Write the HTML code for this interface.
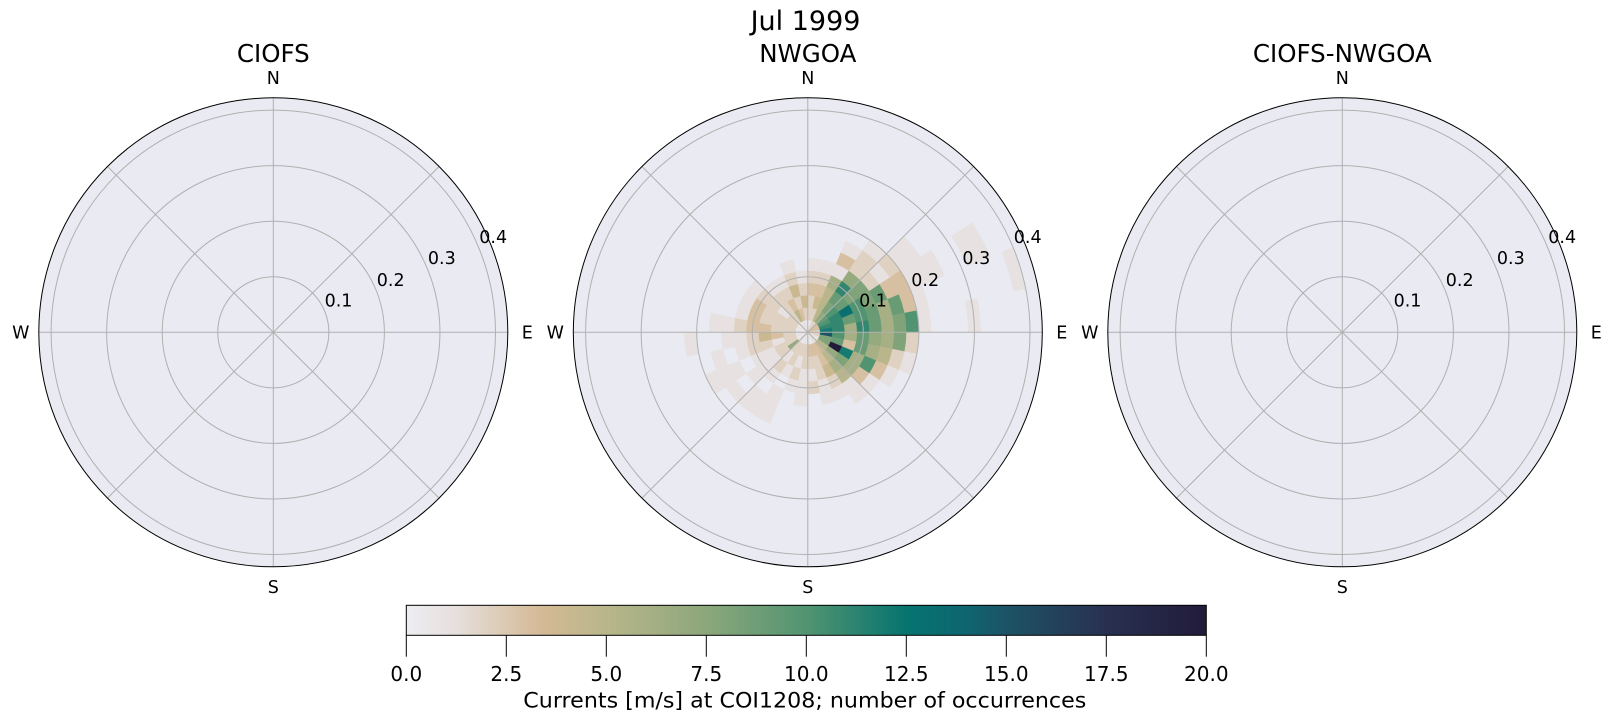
<!DOCTYPE html>
<html>
<head>
<meta charset="utf-8">
<style>
  html,body{margin:0;padding:0;background:#ffffff;}
  svg{display:block;}
  text{font-family:"DejaVu Sans","Liberation Sans",sans-serif;fill:#000;}
</style>
</head>
<body>
<svg id="fig" width="1611" height="724" viewBox="0 0 1611 724" xmlns="http://www.w3.org/2000/svg">
  <defs>
    <linearGradient id="rain" x1="0" y1="0" x2="1" y2="0">
      <stop offset="0" stop-color="#eeedf2"/>
      <stop offset="0.06" stop-color="#e6e0de"/>
      <stop offset="0.12" stop-color="#dccbb5"/>
      <stop offset="0.17" stop-color="#d4b995"/>
      <stop offset="0.25" stop-color="#b9b68b"/>
      <stop offset="0.375" stop-color="#8ca77b"/>
      <stop offset="0.5" stop-color="#519471"/>
      <stop offset="0.625" stop-color="#06746f"/>
      <stop offset="0.70" stop-color="#0e6570"/>
      <stop offset="0.75" stop-color="#1d5366"/>
      <stop offset="0.875" stop-color="#283050"/>
      <stop offset="1" stop-color="#221b3a"/>
    </linearGradient>
  </defs>

  <!-- Suptitle -->
  <text x="805.5" y="30" font-size="27" text-anchor="middle">Jul 1999</text>

  <!-- ===== LEFT: CIOFS ===== -->
  <g transform="translate(273.3,332.3)">
    <circle r="234.5" fill="#eaeaf2"/>
    <g stroke="#b0b0b0" stroke-width="1" fill="none">
      <circle r="55.55"/><circle r="111.1"/><circle r="166.65"/><circle r="222.2"/>
      <line x1="0" y1="-234.5" x2="0" y2="234.5"/>
      <line x1="-234.5" y1="0" x2="234.5" y2="0"/>
      <line x1="-165.8" y1="-165.8" x2="165.8" y2="165.8"/>
      <line x1="-165.8" y1="165.8" x2="165.8" y2="-165.8"/>
    </g>
    <circle r="234.5" fill="none" stroke="#000" stroke-width="1"/>
    <g font-size="17.5" text-anchor="middle">
      <text x="0" y="-248.3">N</text>
      <text x="0" y="260.7">S</text>
      <text x="-252.5" y="6.3">W</text>
      <text x="254" y="6.3">E</text>
      <text x="65.2" y="-25.9">0.1</text>
      <text x="117.4" y="-46.4">0.2</text>
      <text x="168.5" y="-68.1">0.3</text>
      <text x="219.9" y="-89.1">0.4</text>
    </g>
    <text x="0" y="-270.3" font-size="24.5" text-anchor="middle">CIOFS</text>
  </g>

  <!-- ===== MIDDLE: NWGOA ===== -->
  <g transform="translate(807.8,332.3)">
    <circle r="234.5" fill="#eaeaf2"/>
    <g id="cells"></g>
    <g stroke="#b0b0b0" stroke-width="1" fill="none">
      <circle r="55.55"/><circle r="111.1"/><circle r="166.65"/><circle r="222.2"/>
      <line x1="0" y1="-234.5" x2="0" y2="234.5"/>
      <line x1="-234.5" y1="0" x2="234.5" y2="0"/>
      <line x1="-165.8" y1="-165.8" x2="165.8" y2="165.8"/>
      <line x1="-165.8" y1="165.8" x2="165.8" y2="-165.8"/>
    </g>
    <circle r="234.5" fill="none" stroke="#000" stroke-width="1"/>
    <g font-size="17.5" text-anchor="middle">
      <text x="0" y="-248.3">N</text>
      <text x="0" y="260.7">S</text>
      <text x="-252.5" y="6.3">W</text>
      <text x="254" y="6.3">E</text>
      <text x="65.2" y="-25.9">0.1</text>
      <text x="117.4" y="-46.4">0.2</text>
      <text x="168.5" y="-68.1">0.3</text>
      <text x="219.9" y="-89.1">0.4</text>
    </g>
    <text x="0" y="-270.3" font-size="24.5" text-anchor="middle">NWGOA</text>
  </g>

  <!-- ===== RIGHT: CIOFS-NWGOA ===== -->
  <g transform="translate(1342.3,332.3)">
    <circle r="234.5" fill="#eaeaf2"/>
    <g stroke="#b0b0b0" stroke-width="1" fill="none">
      <circle r="55.55"/><circle r="111.1"/><circle r="166.65"/><circle r="222.2"/>
      <line x1="0" y1="-234.5" x2="0" y2="234.5"/>
      <line x1="-234.5" y1="0" x2="234.5" y2="0"/>
      <line x1="-165.8" y1="-165.8" x2="165.8" y2="165.8"/>
      <line x1="-165.8" y1="165.8" x2="165.8" y2="-165.8"/>
    </g>
    <circle r="234.5" fill="none" stroke="#000" stroke-width="1"/>
    <g font-size="17.5" text-anchor="middle">
      <text x="0" y="-248.3">N</text>
      <text x="0" y="260.7">S</text>
      <text x="-252.5" y="6.3">W</text>
      <text x="254" y="6.3">E</text>
      <text x="65.2" y="-25.9">0.1</text>
      <text x="117.4" y="-46.4">0.2</text>
      <text x="168.5" y="-68.1">0.3</text>
      <text x="219.9" y="-89.1">0.4</text>
    </g>
    <text x="0" y="-270.3" font-size="24.5" text-anchor="middle">CIOFS-NWGOA</text>
  </g>

  <!-- ===== COLORBAR ===== -->
  <rect x="406.3" y="605.3" width="800" height="30" fill="url(#rain)" stroke="#000" stroke-width="1"/>
  <g stroke="#000" stroke-width="1">
    <line x1="406.3" y1="635.3" x2="406.3" y2="656.7"/>
    <line x1="506.3" y1="635.3" x2="506.3" y2="656.7"/>
    <line x1="606.3" y1="635.3" x2="606.3" y2="656.7"/>
    <line x1="706.3" y1="635.3" x2="706.3" y2="656.7"/>
    <line x1="806.3" y1="635.3" x2="806.3" y2="656.7"/>
    <line x1="906.3" y1="635.3" x2="906.3" y2="656.7"/>
    <line x1="1006.3" y1="635.3" x2="1006.3" y2="656.7"/>
    <line x1="1106.3" y1="635.3" x2="1106.3" y2="656.7"/>
    <line x1="1206.3" y1="635.3" x2="1206.3" y2="656.7"/>
  </g>
  <g font-size="20" text-anchor="middle">
    <text x="406.3" y="681">0.0</text>
    <text x="506.3" y="681">2.5</text>
    <text x="606.3" y="681">5.0</text>
    <text x="706.3" y="681">7.5</text>
    <text x="806.3" y="681">10.0</text>
    <text x="906.3" y="681">12.5</text>
    <text x="1006.3" y="681">15.0</text>
    <text x="1106.3" y="681">17.5</text>
    <text x="1206.3" y="681">20.0</text>
  </g>
  <text x="523.3" y="707.7" font-size="21.5" textLength="563" lengthAdjust="spacingAndGlyphs">Currents [m/s] at COI1208; number of occurrences</text>
</svg>

<script>
(function(){
  var stops=[[0,[0xee,0xed,0xf2]],[0.06,[0xe6,0xe0,0xde]],[0.12,[0xdc,0xcb,0xb5]],[0.17,[0xd4,0xb9,0x95]],
             [0.25,[0xb9,0xb6,0x8b]],[0.375,[0x8c,0xa7,0x7b]],[0.5,[0x51,0x94,0x71]],[0.625,[0x06,0x74,0x6f]],
             [0.70,[0x0e,0x65,0x70]],[0.75,[0x1d,0x53,0x66]],[0.875,[0x28,0x30,0x50]],[1,[0x22,0x1b,0x3a]]];
  function cmap(t){
    if(t<=0) return 'rgb(238,237,242)';
    if(t>=1) t=1;
    for(var i=1;i<stops.length;i++){
      if(t<=stops[i][0]){
        var a=stops[i-1],b=stops[i],f=(t-a[0])/(b[0]-a[0]);
        var c=[0,1,2].map(function(j){return Math.round(a[1][j]+(b[1][j]-a[1][j])*f);});
        return 'rgb('+c.join(',')+')';
      }
    }
    return 'rgb(34,27,58)';
  }
  // 32 angular bins (11.25 deg, compass, clockwise from N), radial bins of 0.4/18
  var data=[
    [0,2,2,3,2,1,0],
    [1,2,4,3,2,1,0],
    [2,5,5,5,6,1,3,1],
    [2,7,8,9,11,7,2,2,1],
    [3,9,10,9,8,8,2,1,2,1,1],
    [3,10,11,13,10,8,9,3,3,1,1,1,0,0,1,1],
    [3,11,11,9,10,9,6,9,3,1,0,0,0,0,0,0,0,1],
    [2,12,11,6,11,9,6,8,10,1,0,0,0,1],
    [2,15,10,6,9,7,6,8,2],
    [2,8,9,3,9,6,5,2,1],
    [1,8,20,12,6,10,3,1],
    [1,5,7,8,6,3,1],
    [1,4,5,6,5,1,1],
    [1,3,3,4,2,1],
    [0,3,2,2,1,1],
    [1,3,2,1,2,0],
    [0,2,2,1,1,1],
    [1,2,1,2,1,0],
    [0,2,2,1,0,1,1,1],
    [1,2,1,2,1,0,1,1],
    [1,7,2,1,1,1,0,1],
    [0,2,2,1,1,0,1,1,1],
    [1,2,1,2,2,1,0,1],
    [0,2,3,4,2,1,1,0,0,1],
    [1,2,2,3,3,2,1,1],
    [0,2,2,2,3,1,0],
    [1,2,2,2,3,1],
    [0,2,1,2,2,1],
    [1,2,2,2,1],
    [1,5,3,2,1],
    [1,3,2,4,2,1],
    [0,2,4,2,1]
  ];
  var S=555.5, dr=(0.4/18)*S, W=11.25;
  var g=document.getElementById('cells');
  function pt(R,deg){var a=deg*Math.PI/180;return [R*Math.sin(a),-R*Math.cos(a)];}
  var html='';
  for(var k=0;k<data.length;k++){
    var a0=k*W,a1=(k+1)*W;
    for(var i=0;i<data[k].length;i++){
      var c=data[k][i]; if(!c) continue;
      var r0=i*dr,r1=(i+1)*dr;
      var p1=pt(r1,a0),p2=pt(r1,a1),p3=pt(r0,a1),p4=pt(r0,a0);
      var d='M'+p1[0].toFixed(2)+','+p1[1].toFixed(2)+
            'A'+r1.toFixed(2)+','+r1.toFixed(2)+' 0 0 1 '+p2[0].toFixed(2)+','+p2[1].toFixed(2);
      if(r0>0){
        d+='L'+p3[0].toFixed(2)+','+p3[1].toFixed(2)+
           'A'+r0.toFixed(2)+','+r0.toFixed(2)+' 0 0 0 '+p4[0].toFixed(2)+','+p4[1].toFixed(2);
      } else { d+='L0,0'; }
      d+='Z';
      var col=cmap(c/20);
      html+='<path d="'+d+'" fill="'+col+'" stroke="'+col+'" stroke-width="0.4"/>';
    }
  }
  g.innerHTML=html;
})();
</script>
</body>
</html>
